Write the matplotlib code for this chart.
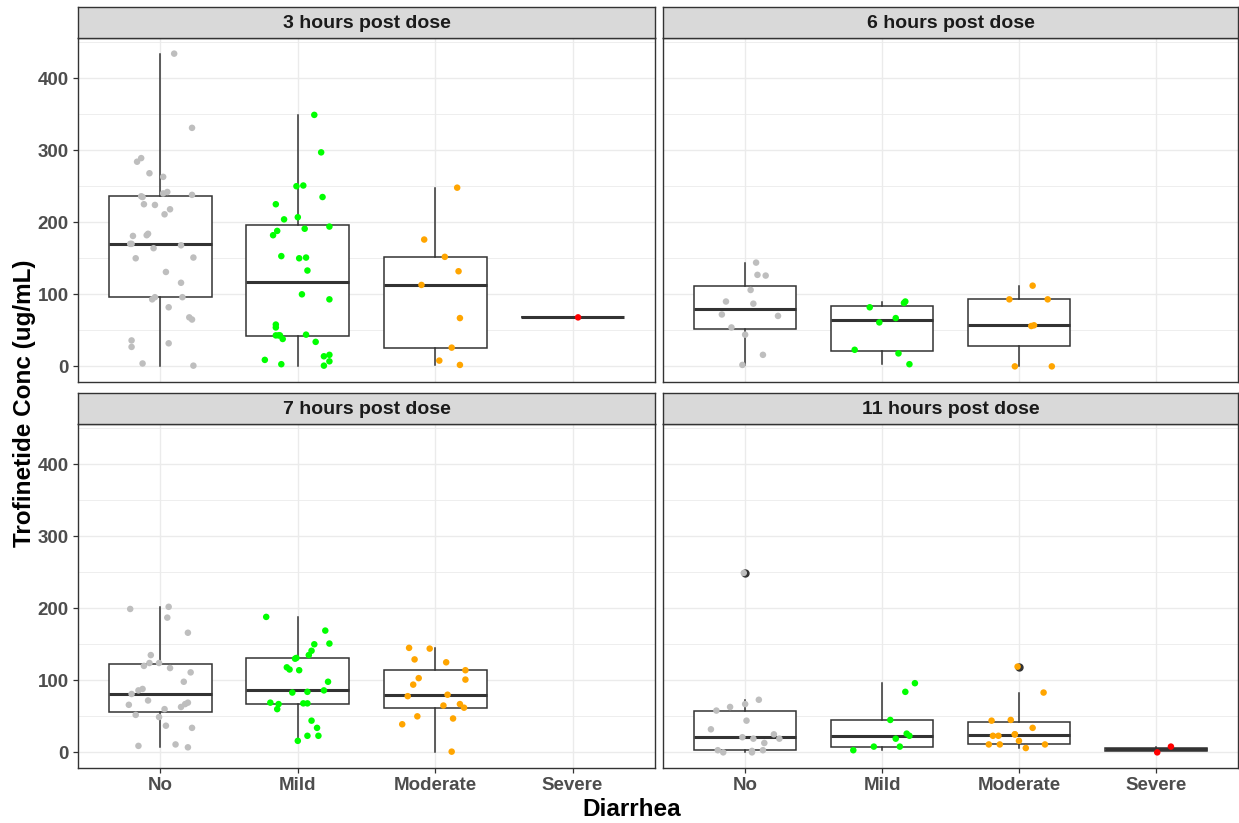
import numpy as np
import matplotlib.pyplot as plt

plt.rcParams['font.family'] = ['Liberation Sans', 'DejaVu Sans']

levels = ['No', 'Mild', 'Moderate', 'Severe']
colors = ['#BEBEBE', '#00FF00', '#FFA500', '#FF0000']
titles = ['3 hours post dose', '6 hours post dose', '7 hours post dose', '11 hours post dose']

# concentrations (ug/mL) and the horizontal jitter used for each point
h3_no = [434, 331, 284, 289, 268, 263, 236, 235, 240, 242, 238, 225, 224, 218, 211,
         181, 182, 184, 170, 170, 168, 164, 150, 151, 131, 116, 96, 93, 96, 82, 68, 65,
         36, 27, 32, 4, 1]
h3_no_jit = [0.10, 0.23, -0.17, -0.14, -0.08, 0.02, -0.14, -0.13, 0.02, 0.05, 0.23, -0.12,
             -0.04, 0.07, 0.03, -0.20, -0.10, -0.09, -0.22, -0.21, 0.15, -0.05, -0.18, 0.24,
             0.04, 0.15, -0.04, -0.06, 0.16, 0.06, 0.21, 0.23, -0.21, -0.21, 0.06, -0.13, 0.24]
h3_mild = [349, 297, 251, 250, 235, 225, 207, 204, 194, 191, 188, 182, 153, 150, 151, 133,
           100, 93, 58, 54, 43, 43, 43, 38, 44, 34, 14, 16, 7, 1, 9, 3]
h3_mild_jit = [0.12, 0.17, 0.04, -0.01, 0.18, -0.16, 0.00, -0.10, 0.23, 0.05, -0.15, -0.18,
               -0.12, 0.01, 0.06, 0.07, 0.03, 0.23, -0.16, -0.16, -0.16, -0.13, -0.14, -0.11,
               0.06, 0.13, 0.19, 0.23, 0.23, 0.19, -0.24, -0.12]
h3_mod = [248, 176, 152, 132, 113, 67, 26, 8, 2]
h3_mod_jit = [0.16, -0.08, 0.07, 0.17, -0.10, 0.18, 0.12, 0.03, 0.18]
h3_sev = [68]
h3_sev_jit = [0.04]

h6_no = [144, 127, 126, 106, 90, 87, 72, 70, 54, 44, 16, 2]
h6_no_jit = [0.08, 0.09, 0.15, 0.04, -0.14, 0.06, -0.17, 0.24, -0.10, 0.00, 0.13, -0.02]
h6_mild = [90, 88, 82, 67, 61, 23, 18, 3]
h6_mild_jit = [0.17, 0.16, -0.09, 0.10, -0.02, -0.20, 0.12, 0.20]
h6_mod = [112, 93, 93, 56, 57, 0, 0]
h6_mod_jit = [0.10, -0.07, 0.21, 0.09, 0.11, -0.03, 0.24]

h7_no = [199, 202, 187, 166, 135, 120, 124, 124, 117, 111, 98, 88, 86, 81, 66, 72, 60,
         63, 67, 69, 52, 49, 37, 34, 9, 11, 7]
h7_no_jit = [-0.22, 0.06, 0.05, 0.20, -0.07, -0.12, -0.08, -0.01, 0.07, 0.22, 0.17, -0.13,
             -0.16, -0.21, -0.23, -0.09, 0.03, 0.15, 0.18, 0.20, -0.18, -0.01, 0.04, 0.23,
             -0.16, 0.11, 0.20]
h7_mild = [188, 169, 151, 150, 141, 135, 131, 130, 118, 115, 114, 98, 86, 84, 83, 69, 67,
           60, 68, 68, 44, 34, 23, 23, 16]
h7_mild_jit = [-0.23, 0.20, 0.23, 0.12, 0.10, 0.08, -0.01, -0.02, -0.08, -0.06, 0.01, 0.22,
               0.19, 0.07, -0.04, -0.20, -0.14, -0.15, 0.04, 0.07, 0.10, 0.14, 0.07, 0.15, 0.00]
h7_mod = [145, 144, 129, 125, 114, 103, 101, 94, 78, 80, 65, 67, 62, 50, 47, 39, 1]
h7_mod_jit = [-0.19, -0.04, -0.15, 0.08, 0.22, -0.12, 0.22, -0.16, -0.20, 0.09, 0.06, 0.18,
              0.21, -0.13, 0.13, -0.24, 0.12]

h11_no = [249, 73, 63, 58, 67, 44, 32, 21, 19, 25, 19, 13, 3, 0, 0, 3, 2]
h11_no_jit = [-0.01, 0.10, -0.11, -0.21, 0.00, 0.01, -0.25, -0.02, 0.06, 0.21, 0.25, 0.14,
              -0.20, -0.16, 0.05, 0.13, 0.05]
h11_mild = [96, 84, 45, 26, 23, 19, 8, 8, 3]
h11_mild_jit = [0.24, 0.17, 0.06, 0.18, 0.20, 0.10, -0.06, 0.13, -0.21]
h11_mod = [119, 83, 44, 45, 34, 23, 23, 25, 25, 16, 11, 11, 11, 6]
h11_mod_jit = [-0.01, 0.18, -0.20, -0.06, 0.10, -0.19, -0.15, -0.03, -0.03, 0.00, -0.22,
               -0.14, 0.19, 0.05]
h11_sev = [8, 0]
h11_sev_jit = [0.11, 0.01]

panel_data = [
    [(h3_no, h3_no_jit), (h3_mild, h3_mild_jit), (h3_mod, h3_mod_jit), (h3_sev, h3_sev_jit)],
    [(h6_no, h6_no_jit), (h6_mild, h6_mild_jit), (h6_mod, h6_mod_jit), None],
    [(h7_no, h7_no_jit), (h7_mild, h7_mild_jit), (h7_mod, h7_mod_jit), None],
    [(h11_no, h11_no_jit), (h11_mild, h11_mild_jit), (h11_mod, h11_mod_jit), (h11_sev, h11_sev_jit)],
]

# shared y range with ggplot-style 5% expansion
all_vals = [v for p in panel_data for g in p if g for v in g[0]]
lo, hi = min(all_vals), max(all_vals)
pad = (hi - lo) * 0.05
ylim = (lo - pad, hi + pad)

W, H = 1239, 823
fig = plt.figure(figsize=(W / 100, H / 100), dpi=100)

# panel rectangles in pixels: columns (left, right), rows (strip top, panel top, panel bottom)
cols = [(78, 655), (663, 1238)]
rows = [(7, 38, 382), (393, 424, 768)]

border = '#333333'
for i, title in enumerate(titles):
    r, c = divmod(i, 2)
    x0, x1 = cols[c]
    st, pt, pb = rows[r]
    ax = fig.add_axes([x0 / W, 1 - pb / H, (x1 - x0) / W, (pb - pt) / H])
    sax = fig.add_axes([x0 / W, 1 - pt / H, (x1 - x0) / W, (pt - st) / H])

    # strip
    sax.set_facecolor('#D9D9D9')
    sax.set_xticks([])
    sax.set_yticks([])
    for s in sax.spines.values():
        s.set_color(border)
        s.set_linewidth(1.0)
    sax.text(0.5, 0.47, title, ha='center', va='center', fontsize=14,
             fontweight='bold', color='#1A1A1A', transform=sax.transAxes)

    for k, grp in enumerate(panel_data[i]):
        if grp is None:
            continue
        vals, jit = grp
        ax.boxplot([vals], positions=[k + 1], widths=0.75, patch_artist=True,
                   showcaps=False,
                   boxprops=dict(facecolor='white', edgecolor='#333333', linewidth=1.1),
                   medianprops=dict(color='#333333', linewidth=2.2),
                   whiskerprops=dict(color='#333333', linewidth=1.1),
                   flierprops=dict(marker='o', markerfacecolor='#333333',
                                   markeredgecolor='#333333', markersize=5),
                   zorder=2)
        ax.scatter(np.array(jit) + k + 1, vals, s=22, color=colors[k],
                   edgecolors='none', zorder=3)

    ax.set_xlim(0.4, 4.6)
    ax.set_ylim(*ylim)
    ax.set_yticks([0, 100, 200, 300, 400])
    ax.set_yticks(np.arange(50, 451, 100), minor=True)
    ax.set_xticks(range(1, 5))
    ax.grid(True, which='major', color='#EBEBEB', linewidth=1.0, zorder=0)
    ax.grid(True, which='minor', axis='y', color='#EBEBEB', linewidth=0.6, zorder=0)
    ax.set_axisbelow(True)
    for s in ax.spines.values():
        s.set_color(border)
        s.set_linewidth(1.0)
    ax.tick_params(which='minor', length=0)
    ax.tick_params(which='major', length=3.5, width=0.9, color='#333333',
                   labelsize=13.5, labelcolor='#4D4D4D', pad=3)
    if c == 0:
        ax.set_yticklabels(['0', '100', '200', '300', '400'], fontweight='bold')
    else:
        ax.tick_params(axis='y', which='major', length=0, labelleft=False)
    if r == 1:
        ax.set_xticklabels(levels, fontweight='bold')
    else:
        ax.tick_params(axis='x', which='major', length=0, labelbottom=False)

fig.text(632 / W, 1 - 810 / H, 'Diarrhea', ha='center', va='center',
         fontsize=17.5, fontweight='bold')
fig.text(25 / W, 1 - 403 / H, 'Trofinetide Conc (ug/mL)', ha='center', va='center',
         rotation=90, fontsize=17.5, fontweight='bold')

fig.savefig('out.png', dpi=100)
